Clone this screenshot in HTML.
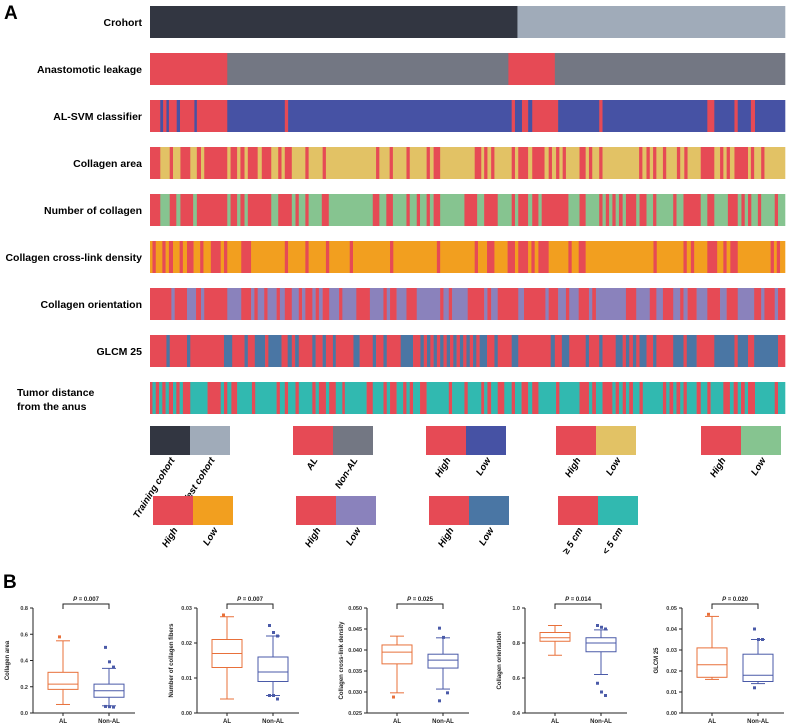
<!DOCTYPE html>
<html><head><meta charset="utf-8"><style>
html,body{margin:0;padding:0;background:#fff;}
svg{display:block;font-family:"Liberation Sans",Arial,sans-serif;}
</style></head><body>
<svg id="fig" width="800" height="724" viewBox="0 0 800 724" xmlns="http://www.w3.org/2000/svg">
<text x="4" y="19" font-size="19" font-weight="bold">A</text>
<text x="3" y="588" font-size="19" font-weight="bold">B</text>
<g id="rows"></g>
<g id="legends"></g>
<g id="boxes"></g>
</svg>
<script>
const NS="http://www.w3.org/2000/svg";
const C={red:"#e64a55",dark:"#323641",light:"#a0abb9",gray:"#737783",blue:"#4652a4",yellow:"#e2c265",green:"#86c490",orange:"#f29f1f",purple:"#8a82bc",steel:"#4a76a4",teal:"#31b9b0"};
const rowLabels=["Crohort","Anastomotic leakage","AL-SVM classifier","Collagen area","Number of collagen","Collagen cross-link density","Collagen orientation","GLCM 25","Tumor distance|from the anus"];
const cohortBounds=[10,904,1555];
const leakBounds=[10,198,882,995,1555];
const svmBounds=[10,35,42,50,56,75,83,118,124,198,338,346,890,898,915,930,940,1003,1103,1111,1366,1383,1432,1440,1472,1482,1555];
const areaBounds=[10,35,58,66,84,108,124,134,142,198,206,222,230,240,248,272,282,305,322,330,338,355,388,396,430,438,560,568,593,601,634,642,683,691,700,716,800,816,823,831,840,848,890,898,906,930,940,970,980,988,998,1006,1014,1022,1055,1070,1078,1086,1103,1111,1200,1208,1218,1226,1234,1242,1258,1266,1292,1300,1310,1318,1350,1383,1397,1405,1413,1421,1432,1465,1472,1480,1497,1505,1555];
const numberBounds=[10,35,58,74,84,115,124,198,206,222,230,240,248,305,322,355,364,372,388,396,428,445,552,568,585,601,634,642,659,667,683,691,700,716,775,806,823,856,890,898,906,930,940,955,963,1028,1055,1070,1103,1111,1119,1127,1135,1143,1151,1160,1168,1193,1201,1218,1234,1242,1283,1291,1308,1350,1366,1383,1416,1440,1449,1457,1465,1473,1489,1497,1530,1538,1555];
const crossBounds=[10,16,24,40,48,56,66,82,90,100,116,132,140,158,182,190,198,232,256,338,346,388,396,438,446,496,504,594,602,708,716,800,808,830,848,880,898,906,930,938,946,955,980,1028,1036,1053,1070,1235,1243,1308,1316,1326,1334,1366,1390,1405,1413,1422,1440,1520,1528,1535,1543,1555];
const orientBounds=[10,62,70,100,122,134,142,198,232,256,264,272,288,296,318,326,338,355,372,380,388,405,413,421,430,446,470,478,512,545,578,586,594,610,634,659,716,724,737,745,783,823,831,840,856,906,920,972,980,1003,1022,1030,1053,1078,1086,1095,1168,1193,1226,1242,1258,1283,1300,1308,1318,1340,1366,1397,1413,1440,1480,1497,1505,1530,1538,1555];
const glcmBounds=[10,50,58,100,108,190,210,240,248,265,290,298,330,345,355,363,372,405,413,430,438,455,462,505,520,552,560,578,586,620,650,668,676,684,692,700,708,716,724,732,740,748,756,764,772,780,788,796,804,812,830,848,856,890,906,985,995,1012,1030,1070,1078,1103,1111,1143,1160,1168,1176,1185,1193,1201,1218,1234,1242,1283,1308,1316,1340,1383,1432,1440,1465,1480,1538,1555];
const tumorBounds=[10,16,24,32,40,48,56,66,74,82,90,108,150,182,190,198,208,222,258,266,318,326,338,346,364,372,405,413,421,438,446,462,478,484,537,552,578,586,594,610,626,634,642,650,667,683,737,745,775,783,816,823,831,840,856,872,890,898,914,930,940,955,998,1006,1055,1078,1086,1095,1111,1135,1143,1151,1160,1168,1176,1185,1201,1209,1258,1266,1274,1283,1291,1300,1308,1316,1340,1350,1366,1374,1405,1421,1430,1440,1448,1457,1465,1482,1530,1538,1555];

const yTitles=["Collagen area","Number of collagen fibers","Collagen cross-link density","Collagen orientation","GLCM 25"];
const pValues=["0.007","0.007","0.025","0.014","0.020"];
const yMins=[0,0,0.025,0.4,0];
const yMaxs=[0.8,0.03,0.05,1.0,0.05];
const yTickVals=[[0,0.2,0.4,0.6,0.8],[0,0.01,0.02,0.03],[0.025,0.03,0.035,0.04,0.045,0.05],[0.4,0.6,0.8,1.0],[0,0.01,0.02,0.03,0.04,0.05]];
const yTickLabels=[["0.0","0.2","0.4","0.6","0.8"],["0.00","0.01","0.02","0.03"],["0.025","0.030","0.035","0.040","0.045","0.050"],["0.4","0.6","0.8","1.0"],["0.00","0.01","0.02","0.03","0.04","0.05"]];
const alStats=[[0.065,0.18,0.22,0.31,0.55],[0.004,0.013,0.017,0.021,0.0275],[0.0298,0.0367,0.0395,0.0412,0.0433],[0.73,0.81,0.83,0.86,0.90],[0.016,0.017,0.023,0.031,0.046]];
const nonStats=[[0.055,0.12,0.17,0.22,0.34],[0.005,0.009,0.0117,0.016,0.022],[0.0307,0.0357,0.0376,0.039,0.0429],[0.62,0.75,0.80,0.83,0.875],[0.014,0.015,0.018,0.028,0.035]];
const alOut=[[0.58],[0.028],[0.0288],[],[0.047]];
const nonOut=[[0.5,0.39,0.35,0.05,0.048,0.045],[0.025,0.023,0.022,0.005,0.005,0.004],[0.0452,0.043,0.0298,0.0279],[0.9,0.89,0.88,0.57,0.52,0.5],[0.04,0.035,0.035,0.012]];

function el(tag,attrs,parent){const e=document.createElementNS(NS,tag);for(const k in attrs)e.setAttribute(k,attrs[k]);parent.appendChild(e);return e;}
const xs=z=>150+(z-10)/1545*635;
const rowsG=document.getElementById('rows');
const rowSpecs=[[cohortBounds,C.dark,C.light],[leakBounds,C.red,C.gray],[svmBounds,C.red,C.blue],[areaBounds,C.red,C.yellow],[numberBounds,C.red,C.green],[crossBounds,C.orange,C.red],[orientBounds,C.red,C.purple],[glcmBounds,C.red,C.steel],[tumorBounds,C.red,C.teal]];
rowSpecs.forEach((spec,i)=>{
  const y=6+i*47, h=32;
  const b=spec[0];
  for(let j=0;j<b.length-1;j++){
    const r=el('rect',{x:xs(b[j]),y:y,width:xs(b[j+1])-xs(b[j])+0.3,height:h,fill:j%2===0?spec[1]:spec[2]},rowsG);
    
    
  }
  const parts=rowLabels[i].split('|');
  if(parts.length===1){
    const t=el('text',{x:142,y:y+h/2+4,'font-size':10.5,'font-weight':'bold','text-anchor':'end'},rowsG);
    t.textContent=parts[0];
    
    
  } else {
    parts.forEach((p,k)=>{
      const t=el('text',{x:17,y:y+h/2-2+k*14,'font-size':10.5,'font-weight':'bold'},rowsG);
      t.textContent=p;
      
      
    });
  }
});
const legX=[150,293,426,556,701,153,296,429,558];
const legY=[426,426,426,426,426,496,496,496,496];
const legCols=[[C.dark,C.light],[C.red,C.gray],[C.red,C.blue],[C.red,C.yellow],[C.red,C.green],[C.red,C.orange],[C.red,C.purple],[C.red,C.steel],[C.red,C.teal]];
const legText=[["Training cohort","Test cohort"],["AL","Non-AL"],["High","Low"],["High","Low"],["High","Low"],["High","Low"],["High","Low"],["High","Low"],["\u2265 5 cm","< 5 cm"]];
const lg=document.getElementById('legends');
legX.forEach((x,i)=>{
  [0,1].forEach(k=>{
    const r=el('rect',{x:x+k*40,y:legY[i],width:40,height:29,fill:legCols[i][k]},lg);
    
    
    const tx=x+k*40+25, ty=legY[i]+34;
    const t=el('text',{x:tx,y:ty,'font-size':9.5,'font-style':'italic','font-weight':'bold','text-anchor':'end',transform:`rotate(-58 ${tx} ${ty})`},lg);
    t.textContent=legText[i][k];
    
    
  });
});
const axisX=[33,197,367,525,682];
const bg=document.getElementById('boxes');
const plotTop=608,plotBot=713;
axisX.forEach((ax,p)=>{
  const g=el('g',{},bg);
  
  
  const ys=v=>plotBot-(v-yMins[p])/(yMaxs[p]-yMins[p])*(plotBot-plotTop);
  el('line',{x1:ax,y1:plotTop,x2:ax,y2:plotBot,stroke:'#222','stroke-width':1},g);
  el('line',{x1:ax,y1:plotBot,x2:ax+102,y2:plotBot,stroke:'#222','stroke-width':1},g);
  yTickVals[p].forEach((v,k)=>{
    el('line',{x1:ax-3,y1:ys(v),x2:ax,y2:ys(v),stroke:'#222'},g);
    const t=el('text',{x:ax-5,y:ys(v)+2,'font-size':5.5,'font-weight':'bold','text-anchor':'end',fill:'#333'},g);
    t.textContent=yTickLabels[p][k];
    
    
  });
  const tx=ax-24,ty=(plotTop+plotBot)/2;
  const yt=el('text',{x:tx,y:ty,'font-size':6,'font-weight':'bold','text-anchor':'middle',transform:`rotate(-90 ${tx} ${ty})`,fill:'#222'},g);
  yt.textContent=yTitles[p];
  
  
  const cx=[ax+30,ax+76];
  const groups=[[alStats[p],alOut[p],'#e8703a','AL'],[nonStats[p],nonOut[p],'#4a5aa8','Non-AL']];
  groups.forEach((gd,k)=>{
    const s=gd[0],col=gd[2],c=cx[k],w=15;
    el('line',{x1:c,y1:ys(s[0]),x2:c,y2:ys(s[1]),stroke:col},g);
    el('line',{x1:c,y1:ys(s[3]),x2:c,y2:ys(s[4]),stroke:col},g);
    el('line',{x1:c-7,y1:ys(s[0]),x2:c+7,y2:ys(s[0]),stroke:col},g);
    el('line',{x1:c-7,y1:ys(s[4]),x2:c+7,y2:ys(s[4]),stroke:col},g);
    const box=el('rect',{x:c-w,y:ys(s[3]),width:2*w,height:ys(s[1])-ys(s[3]),fill:'none',stroke:col},g);
    
    
    el('line',{x1:c-w,y1:ys(s[2]),x2:c+w,y2:ys(s[2]),stroke:col},g);
    gd[1].forEach((v,m)=>{
      const o=el('rect',{x:c-5+(m%3)*4,y:ys(v)-1.5,width:3,height:3,fill:col},g);
      
      
    });
    el('line',{x1:c,y1:plotBot,x2:c,y2:plotBot+3,stroke:'#222'},g);
    const xl=el('text',{x:c,y:plotBot+10,'font-size':6,'font-weight':'bold','text-anchor':'middle',fill:'#222'},g);
    xl.textContent=gd[3];
    
    
  });
  el('path',{d:`M${cx[0]} 609 V604 H${cx[1]} V609`,fill:'none',stroke:'#222','stroke-width':1},g);
  const pt=el('text',{x:(cx[0]+cx[1])/2,y:601,'font-size':6,'font-weight':'bold','text-anchor':'middle',fill:'#222'},g);
  pt.innerHTML='<tspan font-style="italic">P</tspan> = '+pValues[p];
  
  
});
</script>
</body></html>
